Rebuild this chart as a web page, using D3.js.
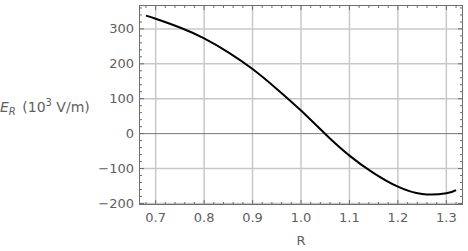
<!DOCTYPE html>
<html><head><meta charset="utf-8">
<script src="https://cdn.jsdelivr.net/npm/d3@7"></script>
<style>body{margin:0;background:#fff}svg{display:block}text{font-family:"DejaVu Sans",sans-serif}</style>
</head><body>
<svg id="c" width="468" height="251"></svg>
<script>
const rValues = [0.68, 0.70, 0.75, 0.80, 0.85, 0.90, 0.95, 1.00, 1.05, 1.10, 1.15, 1.20, 1.25, 1.30, 1.32];
const eValues = [338, 329, 304, 273, 233, 185, 128, 66, -1, -63, -113, -152, -173, -171, -162];
const xTicks = [0.7, 0.8, 0.9, 1.0, 1.1, 1.2, 1.3];
const yTicks = [-200, -100, 0, 100, 200, 300];

const svg = d3.select("#c");
const L = 139.5, R = 462.5, T = 5.5, B = 204.5;
const x = d3.scaleLinear().domain([2/3, 4/3]).range([L, R]);
const y = d3.scaleLinear().domain([-203, 367]).range([B, T]);
const grid = "#c8c8c8", frame = "#6e6e6e", txt = "#606060";

// gridlines
svg.append("g").selectAll("line").data(xTicks).join("line")
  .attr("x1", d => x(d)).attr("x2", d => x(d)).attr("y1", T).attr("y2", B)
  .attr("stroke", grid).attr("stroke-width", 1.5);
svg.append("g").selectAll("line").data(yTicks.filter(d => d !== 0)).join("line")
  .attr("y1", d => y(d)).attr("y2", d => y(d)).attr("x1", L).attr("x2", R)
  .attr("stroke", grid).attr("stroke-width", 1.5);
svg.append("line").attr("x1", L).attr("x2", R).attr("y1", y(0)).attr("y2", y(0))
  .attr("stroke", "#777").attr("stroke-width", 1);

// frame ticks
const xMinor = d3.range(0.68, 1.33, 0.02).map(v => +v.toFixed(2));
const yMinor = d3.range(-200, 361, 20);
const isMajX = v => xTicks.some(t => Math.abs(t - v) < 1e-6);
const isMajY = v => yTicks.includes(v);
const tk = svg.append("g").attr("stroke", frame).attr("stroke-width", 1);
xMinor.forEach(v => {
  const len = isMajX(v) ? 4.5 : 2.5;
  tk.append("line").attr("x1", x(v)).attr("x2", x(v)).attr("y1", B).attr("y2", B - len);
  tk.append("line").attr("x1", x(v)).attr("x2", x(v)).attr("y1", T).attr("y2", T + len);
});
yMinor.forEach(v => {
  const len = isMajY(v) ? 4.5 : 2.5;
  tk.append("line").attr("y1", y(v)).attr("y2", y(v)).attr("x1", L).attr("x2", L + len);
  tk.append("line").attr("y1", y(v)).attr("y2", y(v)).attr("x1", R).attr("x2", R - len);
});
svg.append("rect").attr("x", L).attr("y", T).attr("width", R - L).attr("height", B - T)
  .attr("fill", "none").attr("stroke", frame).attr("stroke-width", 1);

// curve
const line = d3.line().x((d, i) => x(rValues[i])).y(d => y(d)).curve(d3.curveNatural);
svg.append("path").datum(eValues).attr("d", line).attr("fill", "none")
  .attr("stroke", "#000").attr("stroke-width", 2);

// tick labels
svg.append("g").selectAll("text").data(xTicks).join("text")
  .attr("x", d => x(d)).attr("y", 222).attr("text-anchor", "middle")
  .attr("font-size", 13).attr("fill", txt).text(d => d.toFixed(1));
svg.append("g").selectAll("text").data(yTicks).join("text")
  .attr("x", 134).attr("y", d => y(d) + 4.5).attr("text-anchor", "end")
  .attr("font-size", 13).attr("fill", txt).text(d => d < 0 ? "\u2212" + Math.abs(d) : d);

// axis labels
svg.append("text").attr("x", x(1.0)).attr("y", 245).attr("text-anchor", "middle")
  .attr("font-size", 13).attr("fill", txt).text("R");
const yl = svg.append("text").attr("x", 0).attr("y", 112).attr("font-size", 14).attr("fill", txt);
yl.append("tspan").attr("font-style", "italic").text("E");
yl.append("tspan").attr("font-style", "italic").attr("font-size", 10).attr("dy", 3).text("R");
yl.append("tspan").attr("dy", -3).attr("dx", 2).text(" (10");
yl.append("tspan").attr("font-size", 10).attr("dy", -6).text("3");
yl.append("tspan").attr("dy", 6).text(" V/m)");
</script>
</body></html>
